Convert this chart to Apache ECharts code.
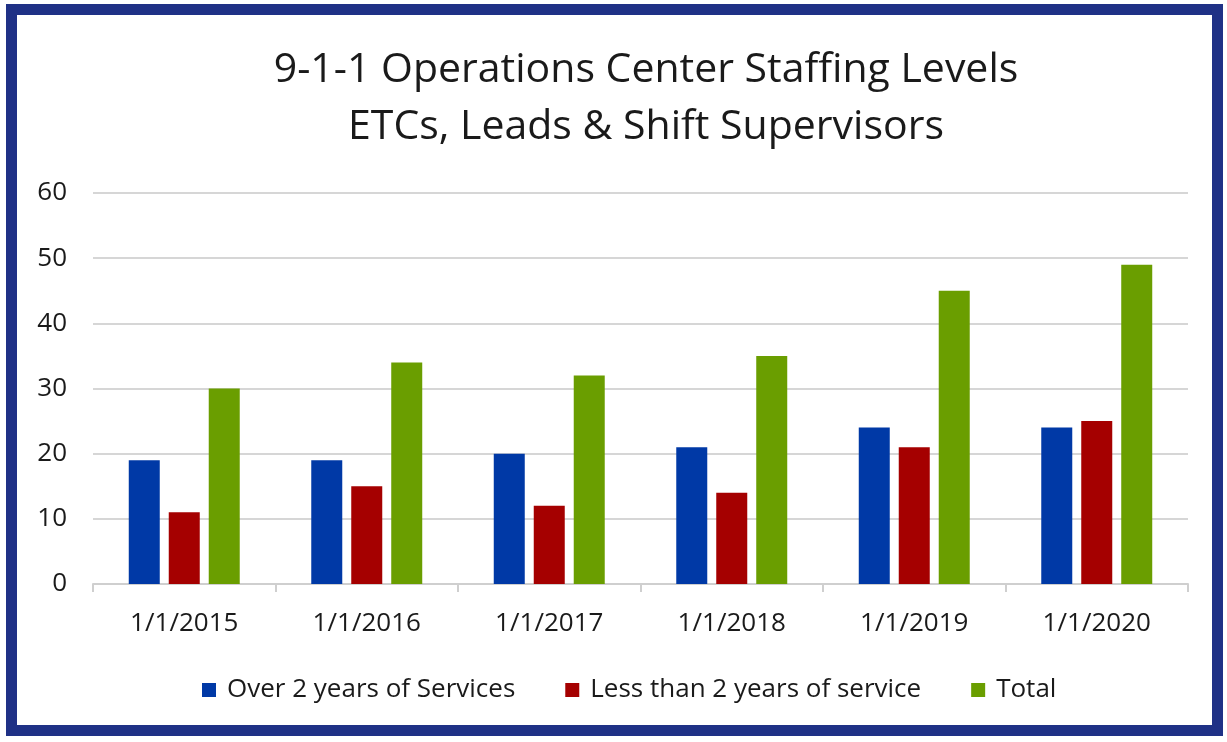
<!DOCTYPE html>
<html>
<head>
<meta charset="utf-8">
<script src="https://cdn.jsdelivr.net/npm/echarts@6/dist/echarts.min.js"></script>
<style>
body { margin: 0; background: #fff; }
#frame { position: absolute; left: 6px; top: 4px; width: 1217px; height: 732px; border: 11px solid #1f3186; box-sizing: border-box; }
#chart { position: absolute; left: 0; top: 0; width: 1227px; height: 742px; }
</style>
</head>
<body>
<div id="frame"></div>
<div id="chart"></div>
<script>
var categories = ["1/1/2015", "1/1/2016", "1/1/2017", "1/1/2018", "1/1/2019", "1/1/2020"];
var overTwo = [19, 19, 20, 21, 24, 24];
var underTwo = [11, 15, 12, 14, 21, 25];
var totals = [30, 34, 32, 35, 45, 49];
var seriesNames = ["Over 2 years of Services", "Less than 2 years of service", "Total"];
var colors = ["#0039a6", "#a50000", "#6a9e00"];

var font = "'Open Sans', 'Noto Sans', sans-serif";
var myChart = echarts.init(document.getElementById('chart'));

function makeSeries(i, data) {
    return {
        name: seriesNames[i],
        type: 'bar',
        data: data,
        barWidth: 31,
        barGap: '29%',
        itemStyle: { color: colors[i] }
    };
}

var option = {
    animation: false,
    textStyle: { fontFamily: font },
    title: {
        text: '9-1-1 Operations Center Staffing Levels\nETCs, Leads & Shift Supervisors',
        left: 641,
        textAlign: 'center',
        top: 37,
        textStyle: { fontSize: 41, fontWeight: 'normal', color: '#1a1a1a', lineHeight: 57, fontFamily: font }
    },
    legend: {
        bottom: 34,
        left: 197,
        itemWidth: 14,
        itemHeight: 14,
        itemGap: 50,
        icon: 'rect',
        textStyle: { fontSize: 26, color: '#1a1a1a', fontFamily: font, padding: [0, 0, 0, 6] },
        data: seriesNames
    },
    grid: { left: 93, right: 39, top: 193, bottom: 158 },
    xAxis: {
        type: 'category',
        data: categories,
        axisLine: { lineStyle: { color: '#cfcfcf', width: 2 } },
        axisTick: { show: true, length: 8, lineStyle: { color: '#cfcfcf', width: 2 } },
        axisLabel: { fontSize: 26, color: '#1a1a1a', margin: 27, fontFamily: font }
    },
    yAxis: {
        type: 'value',
        min: 0,
        max: 60,
        interval: 10,
        axisLine: { show: false },
        axisTick: { show: false },
        splitLine: { lineStyle: { color: '#d6d6d6', width: 2 } },
        axisLabel: { fontSize: 26, color: '#1a1a1a', margin: 26, fontFamily: font }
    },
    series: [
        makeSeries(0, overTwo),
        makeSeries(1, underTwo),
        makeSeries(2, totals)
    ]
};
myChart.setOption(option);
</script>
</body>
</html>
